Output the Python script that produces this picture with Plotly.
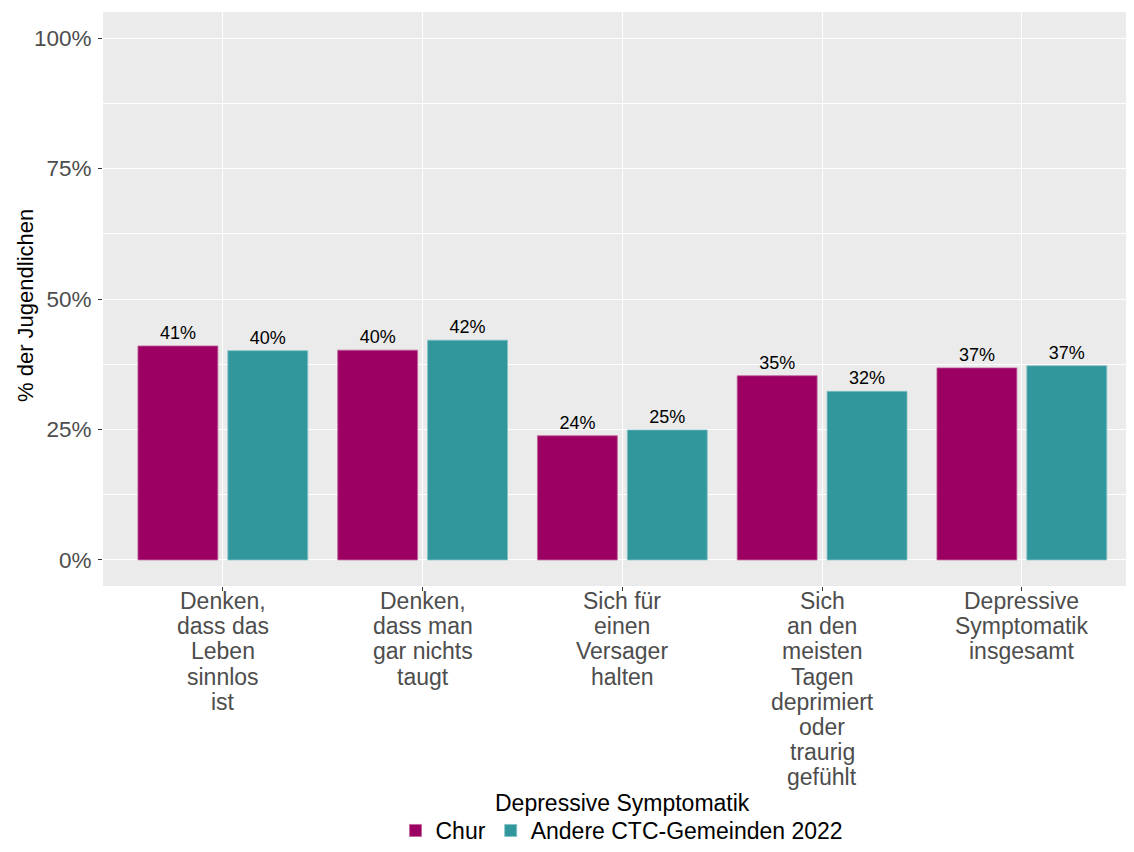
import plotly.graph_objects as go

categories = [
    "Denken, dass das Leben sinnlos ist",
    "Denken, dass man gar nichts taugt",
    "Sich für einen Versager halten",
    "Sich an den meisten Tagen deprimiert oder traurig gefühlt",
    "Depressive Symptomatik insgesamt",
]
tick_labels = [
    "Denken,\ndass das\nLeben\nsinnlos\nist",
    "Denken,\ndass man\ngar nichts\ntaugt",
    "Sich für\neinen\nVersager\nhalten",
    "Sich\nan den\nmeisten\nTagen\ndeprimiert\noder\ntraurig\ngefühlt",
    "Depressive\nSymptomatik\ninsgesamt",
]
series_names = ["Chur", "Andere CTC-Gemeinden 2022"]
chur = [41.0, 40.2, 23.8, 35.3, 36.8]
andere = [40.1, 42.1, 24.9, 32.3, 37.2]
y_ticks = [0, 25, 50, 75, 100]
y_tick_text = ["0%", "25%", "50%", "75%", "100%"]
x_title = "Depressive Symptomatik"
y_title = "% der Jugendlichen"

FONT = "Liberation Sans, Arial, sans-serif"
colors = ["#9C0063", "#31979C"]
edge = ["#C0649C", "#7CC0C3"]

OFF = 8  # page body margin
W, H = 1134 - OFF, 852 - OFF
PANEL_L, PANEL_T, PANEL_B = 103 - OFF, 12 - OFF, 586 - OFF
ML, MR, MT, MB = PANEL_L, 0, PANEL_T, H - PANEL_B
plot_w = W - ML - MR
plot_h = H - MT - MB
cat_px = 199.75

fig = go.Figure()
for name, vals, c, e in zip(series_names, [chur, andere], colors, edge):
    fig.add_trace(go.Bar(
        x=categories, y=vals, name=name,
        marker=dict(color=c, line=dict(color=e, width=0.8)),
        texttemplate="%{y:.0f}%", textposition="outside",
        outsidetextfont=dict(family=FONT, size=18, color="black"),
        cliponaxis=False,
    ))

# multi-line x tick labels (tight line spacing like the reference)
for cat, lab in zip(categories, tick_labels):
    for i, line in enumerate(lab.split("\n")):
        fig.add_annotation(
            x=cat, xref="x", y=0, yref="paper",
            text=line, showarrow=False,
            xanchor="center", yanchor="middle",
            yshift=-15 - 25.2 * i,
            font=dict(family=FONT, size=23, color="#4D4D4D"),
        )

# x axis title
fig.add_annotation(
    x=categories[2], xref="x", y=0, yref="paper",
    text=x_title, showarrow=False, xanchor="center", yanchor="middle",
    yshift=-(803 - 586),
    font=dict(family=FONT, size=23, color="black"),
)
# y axis title
fig.add_annotation(
    x=-(103 - 25) / plot_w, xref="paper", y=(586 - 306) / plot_h, yref="paper",
    text=y_title, showarrow=False, textangle=-90,
    xanchor="center", yanchor="middle",
    font=dict(family=FONT, size=22, color="black"),
)

fig.update_layout(
    width=W, height=H,
    margin=dict(l=ML, r=MR, t=MT, b=MB, pad=0),
    paper_bgcolor="white", plot_bgcolor="#EBEBEB",
    barmode="group", bargap=0.1, bargroupgap=1 / 9,
    font=dict(family=FONT, size=22, color="black"),
    showlegend=True,
    legend=dict(
        orientation="h",
        xref="container", x=(622 - OFF) / W, xanchor="center",
        yref="container", y=-6 / H, yanchor="bottom",
        font=dict(family=FONT, size=23, color="black"),
        traceorder="normal", itemwidth=30,
        bgcolor="rgba(0,0,0,0)",
    ),
    xaxis=dict(
        type="category",
        range=[-0.6, -0.6 + (1134 - 103) / cat_px],
        showticklabels=False,
        ticks="outside", ticklen=4, tickcolor="#333333", tickwidth=1,
        showgrid=True, gridcolor="white", gridwidth=1.1,
        zeroline=False, showline=False,
    ),
    yaxis=dict(
        range=[-5, 105],
        tickvals=y_ticks, ticktext=y_tick_text,
        tickfont=dict(family=FONT, size=22.5, color="#4D4D4D"),
        ticks="outside", ticklen=4, tickcolor="#333333", tickwidth=1,
        ticklabelstandoff=2,
        showgrid=True, gridcolor="white", gridwidth=1.1,
        minor=dict(tickvals=[12.5, 37.5, 62.5, 87.5], showgrid=True,
                   gridcolor="white", gridwidth=0.5, ticks=""),
        zeroline=False, showline=False,
    ),
)

fig.write_html("out.html")
